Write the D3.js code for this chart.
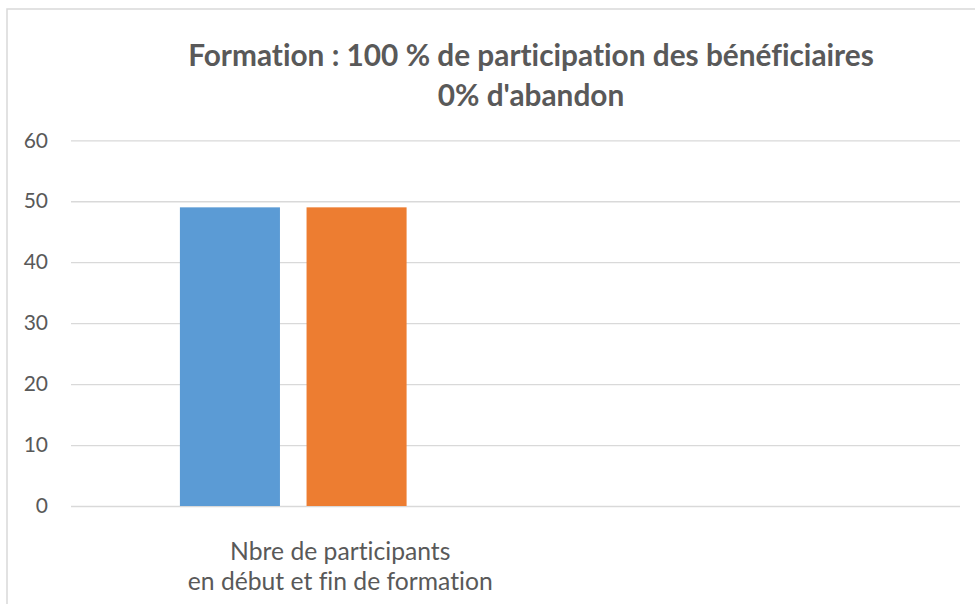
<!DOCTYPE html>
<html>
<head>
<meta charset="utf-8">
<script src="https://cdn.jsdelivr.net/npm/d3@7"></script>
<style>
  html, body { margin: 0; padding: 0; background: #fff; }
  svg { display: block; }
  text { font-variant-ligatures: none; font-feature-settings: "liga" 0, "dlig" 0; }
</style>
</head>
<body>
<svg id="mount" width="975" height="604"></svg>
<script>
// Chart data
var categories = ["Nbre de participants\nen début et fin de formation", ""];
var series = ["Début de formation", "Fin de formation"];
var debutValues = [49, null];
var finValues = [49, null];
var yTicks = [0, 10, 20, 30, 40, 50, 60];
var titleLines = ["Formation : 100 % de participation des bénéficiaires", "0% d'abandon"];

var colorBlue = "#5B9BD5";
var colorOrange = "#ED7D31";
var colorText = "#595959";
var colorGrid = "#D9D9D9";
var fontFamily = "Lato, 'Open Sans', sans-serif";

/**
 * Scale the font size of a group of text nodes so the reference one
 * takes the given width
 * @param {Selection} texts
 * @param {Selection} ref
 * @param {number} target
 */
function fitFont(texts, ref, target) {
  var w = ref.node().getComputedTextLength();
  var fs = parseFloat(ref.attr("font-size"));
  texts.attr("font-size", (fs * target) / w);
}

var svg = d3.select("#mount");
var margin = { top: 140.3, right: 15, bottom: 98, left: 71 };
var width = 975 - margin.left - margin.right;
var height = 604 - margin.top - margin.bottom;

// chart border (runs off the picture on the right and bottom)
svg
  .append("rect")
  .attr("x", 7)
  .attr("y", 9)
  .attr("width", 1100)
  .attr("height", 800)
  .attr("fill", "#fff")
  .attr("stroke", colorGrid)
  .attr("stroke-width", 1.5);

// title
var title = svg
  .append("g")
  .attr("font-family", fontFamily)
  .attr("font-weight", "bold")
  .attr("fill", colorText)
  .attr("text-anchor", "middle");
var titleTexts = title
  .selectAll("text")
  .data(titleLines)
  .join("text")
  .attr("x", 531)
  .attr("y", function(d, i) {
    return 66 + i * 40;
  })
  .attr("font-size", 28)
  .text(function(d) {
    return d;
  });
fitFont(titleTexts, d3.select(titleTexts.nodes()[0]), 686);

var g = svg
  .append("g")
  .attr("transform", "translate(" + margin.left + "," + margin.top + ")");

// scales
var x = d3
  .scaleBand()
  .domain(categories)
  .range([0, width]);
var xSeries = d3
  .scaleBand()
  .domain(series)
  .range([0, x.bandwidth()])
  .paddingInner(0.21)
  .paddingOuter(0.86);
var y = d3
  .scaleLinear()
  .domain([0, 60])
  .range([height, 0]);

// y axis + gridlines
var yAxis = g
  .append("g")
  .call(
    d3
      .axisLeft(y)
      .tickValues(yTicks)
      .tickSize(-width)
      .tickPadding(23)
  );
yAxis.select(".domain").remove();
yAxis
  .selectAll(".tick line")
  .attr("stroke", colorGrid)
  .attr("stroke-width", 1.3);
yAxis
  .selectAll(".tick text")
  .attr("fill", colorText)
  .attr("font-family", fontFamily)
  .attr("font-size", 21);

// bars
var rows = categories.map(function(c, i) {
  return { category: c, values: [debutValues[i], finValues[i]] };
});
var colors = d3
  .scaleOrdinal()
  .domain(series)
  .range([colorBlue, colorOrange]);

g
  .selectAll(".cat")
  .data(rows)
  .join("g")
  .attr("class", "cat")
  .attr("transform", function(d) {
    return "translate(" + x(d.category) + ",0)";
  })
  .selectAll("rect")
  .data(function(d) {
    return d.values
      .map(function(v, i) {
        return { key: series[i], value: v };
      })
      .filter(function(d) {
        return d.value !== null;
      });
  })
  .join("rect")
  .attr("x", function(d) {
    return xSeries(d.key);
  })
  .attr("width", xSeries.bandwidth())
  .attr("y", function(d) {
    return y(d.value);
  })
  .attr("height", function(d) {
    return height - y(d.value);
  })
  .attr("fill", function(d) {
    return colors(d.key);
  });

// category labels (text is wrapped, and sits a bit right of its bars)
var labelShift = 47;
categories.forEach(function(c) {
  if (!c) return;
  var lines = c.split("\n");
  var label = g
    .append("g")
    .attr("font-family", fontFamily)
    .attr("fill", colorText)
    .attr("text-anchor", "middle");
  var texts = label
    .selectAll("text")
    .data(lines)
    .join("text")
    .attr("x", x(c) + x.bandwidth() / 2 + labelShift)
    .attr("y", function(d, i) {
      return height + 54 + i * 30;
    })
    .attr("font-size", 22)
    .text(function(d) {
      return d;
    });
  fitFont(texts, d3.select(texts.nodes()[1]), 305);
});
</script>
</body>
</html>
